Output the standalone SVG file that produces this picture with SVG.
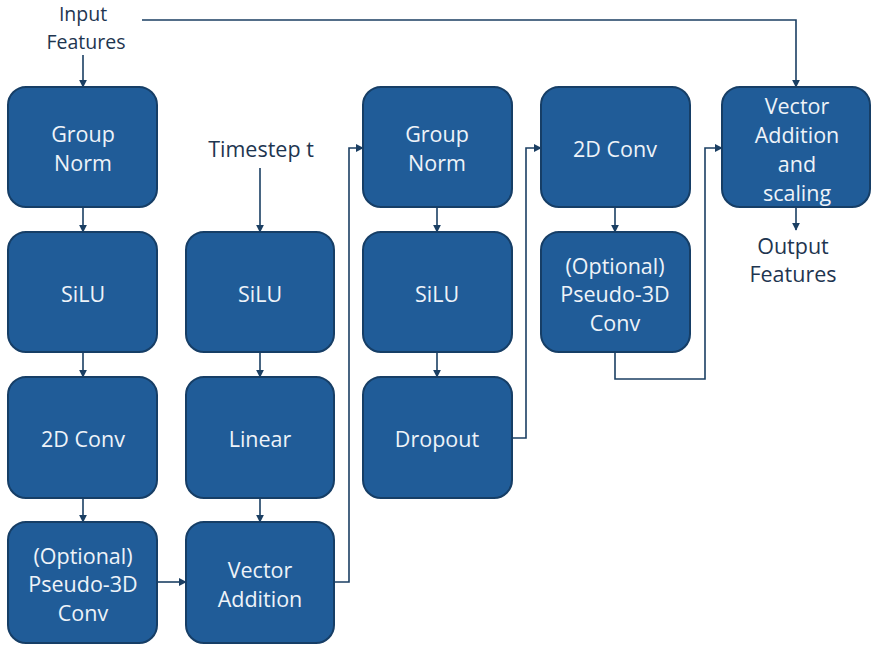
<svg xmlns="http://www.w3.org/2000/svg" width="875" height="653" viewBox="0 0 875 653">
<defs>
<marker id="ah" viewBox="0 0 10 10" refX="9" refY="5" markerWidth="5" markerHeight="5" orient="auto"><path d="M0,0 L10,5 L0,10 z" fill="#1b3f63"/></marker>
<style>
.n rect{fill:#205c98;stroke:#163e66;stroke-width:2}
.n text{fill:#eef3f9;font-family:"Open Sans","Liberation Sans",sans-serif;font-size:21.5px;text-anchor:middle;dominant-baseline:central}
.lbl{fill:#1e3550;font-family:"Open Sans","Liberation Sans",sans-serif;font-size:21.5px;text-anchor:middle;dominant-baseline:central}
.top{font-size:19.5px}
.c path{fill:none;stroke:#1b3f63;stroke-width:1.6}
.c .a{marker-end:url(#ah)}
</style>
</defs>
<rect width="875" height="653" fill="#ffffff"/>
<text class="lbl top" x="83" y="13.5">Input</text>
<text class="lbl top" x="86" y="41">Features</text>
<text class="lbl" x="261" y="148">Timestep t</text>
<text class="lbl" x="793" y="245">Output</text>
<text class="lbl" x="793" y="273">Features</text>
<g class="c">
<path class="a" d="M83,55 V87"/>
<path class="a" d="M142,20 H796 V87"/>
<path class="a" d="M83,207 V232"/>
<path class="a" d="M83,352 V377"/>
<path class="a" d="M83,498 V522"/>
<path class="a" d="M157,582 H186"/>
<path class="a" d="M260,168 V232"/>
<path class="a" d="M260,352 V377"/>
<path class="a" d="M260,498 V522"/>
<path class="a" d="M334,582 H349 V148 H363"/>
<path class="a" d="M437,207 V232"/>
<path class="a" d="M437,352 V377"/>
<path class="a" d="M512,438 H526 V148 H541"/>
<path class="a" d="M615,207 V232"/>
<path class="a" d="M615,352 V379 H705 V148 H722"/>
<path class="a" d="M796,207 V230"/>
</g>
<g id="gn1" class="n"><rect x="8" y="87" width="149" height="120" rx="18"/><text x="83" y="133">Group</text><text x="83" y="162">Norm</text></g>
<g id="silu1" class="n"><rect x="8" y="232" width="149" height="120" rx="18"/><text x="83" y="293">SiLU</text></g>
<g id="conv1" class="n"><rect x="8" y="377" width="149" height="121" rx="18"/><text x="83" y="438">2D Conv</text></g>
<g id="p3d1" class="n"><rect x="8" y="522" width="149" height="121" rx="18"/><text x="83" y="555">(Optional)</text><text x="83" y="583">Pseudo-3D</text><text x="83" y="612">Conv</text></g>
<g id="silu2" class="n"><rect x="186" y="232" width="148" height="120" rx="18"/><text x="260" y="293">SiLU</text></g>
<g id="linear" class="n"><rect x="186" y="377" width="148" height="121" rx="18"/><text x="260" y="438">Linear</text></g>
<g id="vadd" class="n"><rect x="186" y="522" width="148" height="121" rx="18"/><text x="260" y="569">Vector</text><text x="260" y="598">Addition</text></g>
<g id="gn2" class="n"><rect x="363" y="87" width="149" height="120" rx="18"/><text x="437" y="133">Group</text><text x="437" y="162">Norm</text></g>
<g id="silu3" class="n"><rect x="363" y="232" width="149" height="120" rx="18"/><text x="437" y="293">SiLU</text></g>
<g id="dropout" class="n"><rect x="363" y="377" width="149" height="121" rx="18"/><text x="437" y="438">Dropout</text></g>
<g id="conv2" class="n"><rect x="541" y="87" width="149" height="120" rx="18"/><text x="615" y="148">2D Conv</text></g>
<g id="p3d2" class="n"><rect x="541" y="232" width="149" height="120" rx="18"/><text x="615" y="265">(Optional)</text><text x="615" y="293">Pseudo-3D</text><text x="615" y="322">Conv</text></g>
<g id="vadds" class="n"><rect x="722" y="87" width="148" height="120" rx="18"/><text x="797" y="105">Vector</text><text x="797" y="134">Addition</text><text x="797" y="163">and</text><text x="797" y="192">scaling</text></g>
</svg>
